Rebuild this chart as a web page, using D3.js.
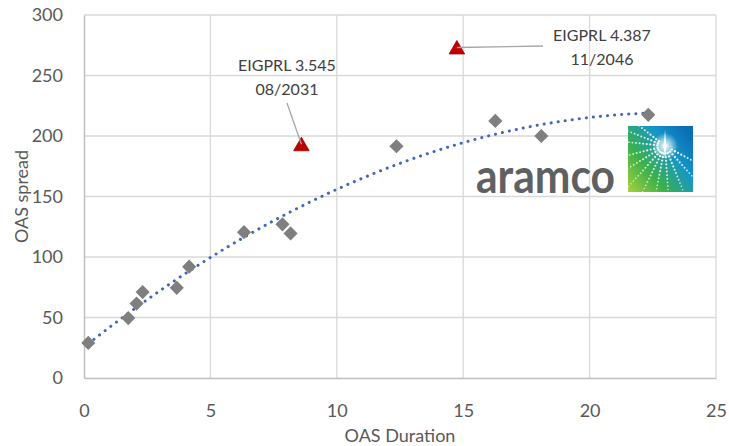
<!DOCTYPE html>
<html>
<head>
<meta charset="utf-8">
<script src="https://cdn.jsdelivr.net/npm/d3@7"></script>
<style>
  body { margin: 0; background: #fff; }
  text { font-family: Lato, "Open Sans", sans-serif; }
</style>
</head>
<body>
<div id="chart"></div>
<script>
// bonds on the curve
var durations = [0.17, 1.75, 2.08, 2.32, 3.67, 4.16, 6.33, 7.85, 8.17, 12.36, 16.27, 18.09, 22.32];
var spreads   = [29, 49.5, 61.5, 71, 74.5, 92, 120.5, 127, 119.5, 191.5, 212.5, 200, 217.5];

// highlighted bonds
var hlNames     = ["EIGPRL 3.545", "EIGPRL 4.387"];
var hlDates     = ["08/2031", "11/2046"];
var hlDurations = [8.6, 14.75];
var hlSpreads   = [191.5, 271.5];

var xTicks = [0, 5, 10, 15, 20, 25];
var yTicks = [0, 50, 100, 150, 200, 250, 300];

var W = 729, H = 446;
var margin = {top: 15, right: 13, bottom: 68, left: 84};
var width = W - margin.left - margin.right,
    height = H - margin.top - margin.bottom;

var svg = d3.select("#chart").append("svg")
    .attr("width", W)
    .attr("height", H);

var g = svg.append("g")
    .attr("transform", "translate(" + margin.left + "," + margin.top + ")");

var x = d3.scaleLinear().domain([0, 25]).range([0, width]);
var y = d3.scaleLinear().domain([0, 300]).range([height, 0]);

// grid
g.append("g").selectAll("line").data(xTicks.slice(1)).enter().append("line")
    .attr("x1", function(d){ return x(d); }).attr("x2", function(d){ return x(d); })
    .attr("y1", 0).attr("y2", height)
    .attr("stroke", "#d9d9d9").attr("stroke-width", 1.3);
g.append("g").selectAll("line").data(yTicks.slice(1)).enter().append("line")
    .attr("x1", 0).attr("x2", width)
    .attr("y1", function(d){ return y(d); }).attr("y2", function(d){ return y(d); })
    .attr("stroke", "#d9d9d9").attr("stroke-width", 1.3);

// axes
var xAxis = d3.axisBottom(x).tickValues(xTicks).tickSize(0).tickPadding(26);
var yAxis = d3.axisLeft(y).tickValues(yTicks).tickSize(0).tickPadding(21);

var gx = g.append("g").attr("transform", "translate(0," + height + ")").call(xAxis);
var gy = g.append("g").call(yAxis);
[gx, gy].forEach(function(a){
    a.select(".domain").attr("stroke", "#bfbfbf").attr("stroke-width", 1.5);
    a.selectAll("text").attr("fill", "#595959").style("font-size", "18px")
        .style("font-family", "Lato, sans-serif");
});

svg.append("text")
    .attr("x", margin.left + width / 2).attr("y", 442)
    .attr("text-anchor", "middle")
    .attr("fill", "#595959").style("font-size", "18px")
    .text("OAS Duration");
svg.append("text")
    .attr("transform", "translate(28," + (margin.top + height / 2) + ") rotate(-90)")
    .attr("text-anchor", "middle")
    .attr("fill", "#595959").style("font-size", "18px")
    .text("OAS spread");

// logo
var logo = svg.append("g");
var defs = svg.append("defs");
var lg = defs.append("linearGradient").attr("id", "lg")
    .attr("x1", 0).attr("y1", 1).attr("x2", 1).attr("y2", 0.2);
lg.append("stop").attr("offset", 0).attr("stop-color", "#a8d03a");
lg.append("stop").attr("offset", 0.35).attr("stop-color", "#3cb14a");
lg.append("stop").attr("offset", 0.7).attr("stop-color", "#1596c8");
lg.append("stop").attr("offset", 1).attr("stop-color", "#0a6fb8");
var rg = defs.append("radialGradient").attr("id", "rg");
rg.append("stop").attr("offset", 0).attr("stop-color", "#fff").attr("stop-opacity", 1);
rg.append("stop").attr("offset", 0.4).attr("stop-color", "#fff").attr("stop-opacity", 0.6);
rg.append("stop").attr("offset", 1).attr("stop-color", "#fff").attr("stop-opacity", 0);
var clip = defs.append("clipPath").attr("id", "logoclip");

var lx = 628, ly = 126, ls = 65;
clip.append("rect").attr("x", lx).attr("y", ly).attr("width", ls).attr("height", ls + 1);
logo.append("rect").attr("x", lx).attr("y", ly).attr("width", ls).attr("height", ls + 1)
    .attr("fill", "url(#lg)");
var spray = logo.append("g").attr("clip-path", "url(#logoclip)");
var cx = lx + 37, cy = ly + 20;
var rayAngles = [218, 202, 186, 166, 149, 132, 116, 101, 86, 68, 48, 28];
rayAngles.forEach(function(a){
    var rad = a * Math.PI / 180;
    d3.range(1, 20).forEach(function(k){
        var r = 4 + k * 3.6;
        var px = cx + Math.cos(rad) * r, py = cy + Math.sin(rad) * r;
        spray.append("circle").attr("cx", px).attr("cy", py)
            .attr("r", Math.max(0.55, 1.25 - k * 0.04))
            .attr("fill", "#fff").attr("opacity", Math.max(0.55, 0.95 - k * 0.02));
    });
});
spray.append("circle").attr("cx", cx).attr("cy", cy).attr("r", 13)
    .attr("fill", "url(#rg)");
// star spikes
[[0, -16], [0, 12], [-14, 0], [16, 2]].forEach(function(s){
    spray.append("path")
        .attr("d", "M" + (cx - 1.5) + "," + cy + "L" + (cx + s[0]) + "," + (cy + s[1]) +
                   "L" + (cx + 1.5) + "," + cy + "Z")
        .attr("fill", "#fff").attr("opacity", 0.9);
});

logo.append("text")
    .attr("x", 476).attr("y", 193)
    .attr("textLength", 139).attr("lengthAdjust", "spacingAndGlyphs")
    .attr("fill", "#5f6062").style("font-size", "48px").style("font-weight", "bold")
    .text("aramco");

// trend line: polynomial (order 2) least squares fit of the curve bonds
function polyfit(xs, ys, order) {
    var n = order + 1, A = [], i, j, k;
    for (i = 0; i < n; i++) {
        A.push([]);
        for (j = 0; j < n; j++) A[i].push(d3.sum(xs, function(v){ return Math.pow(v, i + j); }));
        A[i].push(d3.sum(xs, function(v, t){ return Math.pow(v, i) * ys[t]; }));
    }
    for (i = 0; i < n; i++) {
        for (k = i + 1; k < n; k++) {
            var f = A[k][i] / A[i][i];
            for (j = i; j <= n; j++) A[k][j] -= f * A[i][j];
        }
    }
    var c = new Array(n);
    for (i = n - 1; i >= 0; i--) {
        var s = A[i][n];
        for (j = i + 1; j < n; j++) s -= A[i][j] * c[j];
        c[i] = s / A[i][i];
    }
    return c;
}
var coef = polyfit(durations, spreads, 2);
var xr = d3.extent(durations);
var trend = d3.range(0, 101).map(function(i){
    var v = xr[0] + (xr[1] - xr[0]) * i / 100;
    return [v, coef[0] + coef[1] * v + coef[2] * v * v];
});
g.append("path").datum(trend)
    .attr("d", d3.line().x(function(d){ return x(d[0]); }).y(function(d){ return y(d[1]); }))
    .attr("fill", "none").attr("stroke", "#4466b8").attr("stroke-width", 3)
    .attr("stroke-linecap", "round").attr("stroke-dasharray", "0.1 7");

// points
g.append("g").selectAll("path").data(durations).enter().append("path")
    .attr("d", d3.symbol().type(d3.symbolSquare).size(100))
    .attr("transform", function(d, i){ return "translate(" + x(d) + "," + y(spreads[i]) + ") rotate(45)"; })
    .attr("fill", "#7f7f7f");

// leader lines and labels
var labelPos = [[287, 66, 287, 103], [602, 36, 543, 46]];
hlDurations.forEach(function(d, i){
    var p = labelPos[i];
    svg.append("line")
        .attr("x1", p[2]).attr("y1", p[3])
        .attr("x2", margin.left + x(d)).attr("y2", margin.top + y(hlSpreads[i]) - 2)
        .attr("stroke", "#a6a6a6").attr("stroke-width", 1.3);
    var t = svg.append("text").attr("text-anchor", "middle").attr("fill", "#404040")
        .style("font-size", "16px");
    t.append("tspan").attr("x", p[0]).attr("y", p[1] + 5).text(hlNames[i]);
    t.append("tspan").attr("x", p[0]).attr("y", p[1] + 29).text(hlDates[i]);
});

g.append("g").selectAll("path").data(hlDurations).enter().append("path")
    .attr("d", d3.symbol().type(d3.symbolTriangle).size(105))
    .attr("transform", function(d, i){ return "translate(" + x(d) + "," + y(hlSpreads[i]) + ")"; })
    .attr("fill", "#c00000").attr("stroke", "#a00000").attr("stroke-width", 0.8);
</script>
</body>
</html>
